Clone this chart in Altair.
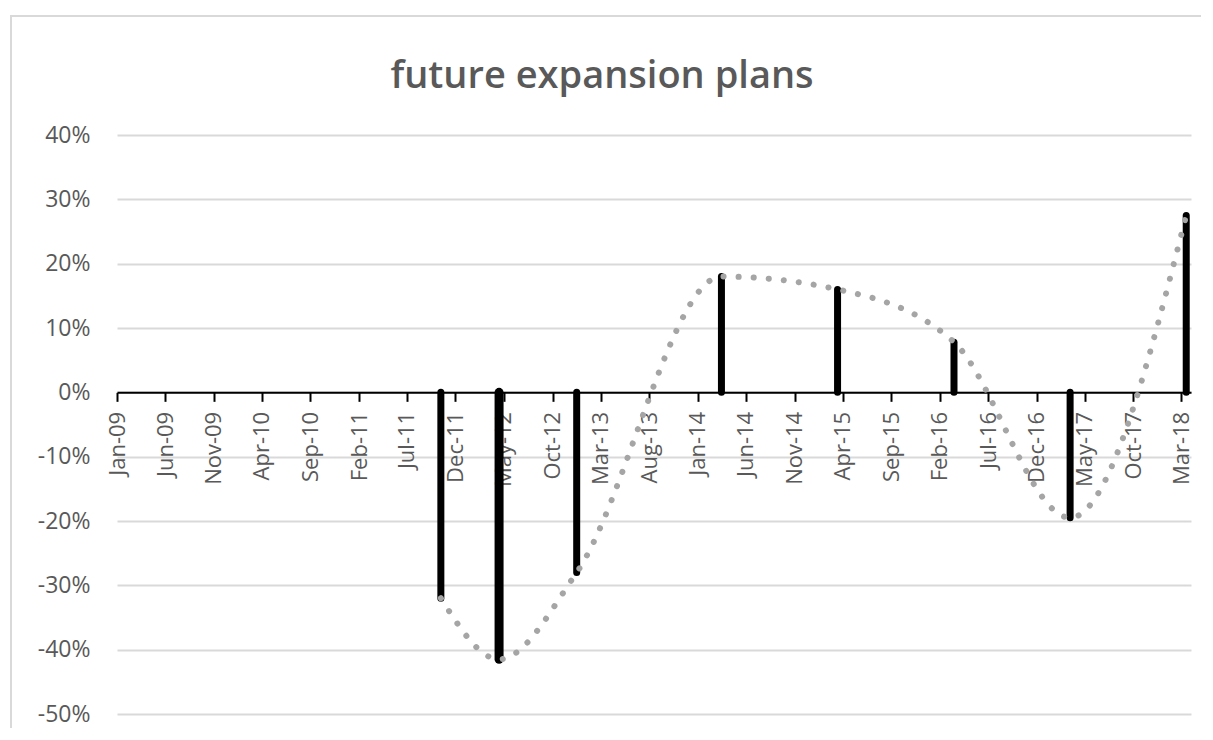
import altair as alt
import pandas as pd

# ---- data ----
survey_dates = ["2011-10-16", "2012-04-16", "2012-12-16", "2014-03-16",
                "2015-03-16", "2016-03-16", "2017-03-16", "2018-03-16"]
expansion_values = [-0.32, -0.415, -0.28, 0.18, 0.16, 0.078, -0.195, 0.275]

# axis tick positions (every 5 months), year / month
tick_years = [2009, 2009, 2009, 2010, 2010, 2011, 2011, 2011, 2012, 2012, 2013, 2013,
              2014, 2014, 2014, 2015, 2015, 2016, 2016, 2016, 2017, 2017, 2018]
tick_months = [1, 6, 11, 4, 9, 2, 7, 12, 5, 10, 3, 8,
               1, 6, 11, 4, 9, 2, 7, 12, 5, 10, 3]
y_ticks = [-0.5, -0.4, -0.3, -0.2, -0.1, 0.0, 0.1, 0.2, 0.3, 0.4]

df = pd.DataFrame({"date": survey_dates, "value": expansion_values})

FONT = "Open Sans"
LABEL_GRAY = "#595959"
PLOT_W, PLOT_H = 1074, 579
y_zero_px = PLOT_H * 0.4 / 0.9

x_scale = alt.Scale(domain=[alt.DateTime(year=2009, month=1, date=1),
                            alt.DateTime(year=2018, month=3, date=31)], nice=False)
y_scale = alt.Scale(domain=[-0.5, 0.4], nice=False, zero=False)

x_axis = alt.Axis(
    title=None, orient="bottom", offset=-(PLOT_H - y_zero_px),
    values=[alt.DateTime(year=y, month=m, date=1) for y, m in zip(tick_years, tick_months)],
    format="%b-%y", labelAngle=270, labelPadding=10, labelFontSize=22,
    labelFont=FONT, labelColor=LABEL_GRAY, labelOverlap=False, labelFlush=False,
    domainColor="black", domainWidth=2, tickColor="black", tickWidth=2, tickSize=9,
    grid=False,
)
y_axis = alt.Axis(
    title=None, values=y_ticks, format=".0%",
    labelExpr="replace(datum.label, '\u2212', '-')",
    labelFontSize=23, labelFont=FONT,
    labelColor=LABEL_GRAY, labelPadding=27, domain=False, ticks=False,
    grid=True, gridColor="#D9D9D9", gridWidth=2,
)

frame = alt.Chart(pd.DataFrame({"k": [0]})).mark_rect(
    fill="white", fillOpacity=0, stroke="#D9D9D9", strokeWidth=2
).encode(x=alt.value(-106), x2=alt.value(1300), y=alt.value(-119), y2=alt.value(800))

bars = alt.Chart(df).mark_rule(color="black", strokeCap="round").encode(
    x=alt.X("date:T", scale=x_scale, axis=x_axis),
    y=alt.Y("value:Q", scale=y_scale, axis=y_axis),
    y2=alt.datum(0),
    size=alt.condition("datum.value < -0.4", alt.value(9), alt.value(7)),
)

trend = alt.Chart(df).mark_line(
    color="#A5A5A5", strokeWidth=6, strokeCap="round", strokeDash=[0.1, 15],
    interpolate="monotone",
).encode(
    x=alt.X("date:T", scale=x_scale),
    y=alt.Y("value:Q", scale=y_scale),
)

chart = alt.layer(frame, bars, trend).properties(
    width=PLOT_W, height=PLOT_H,
    autosize=alt.AutoSizeParams(type="none"),
    padding={"left": 109, "top": 127, "right": 10, "bottom": 14},
    background="white",
    title=alt.TitleParams(
        "future expansion plans", font=FONT, fontSize=38, fontWeight=600,
        color=LABEL_GRAY, anchor="middle", frame="group", dx=-52, offset=-81,
    ),
).configure_view(stroke=None)

chart.save("out.html", embed_options={"renderer": "svg", "actions": False})
